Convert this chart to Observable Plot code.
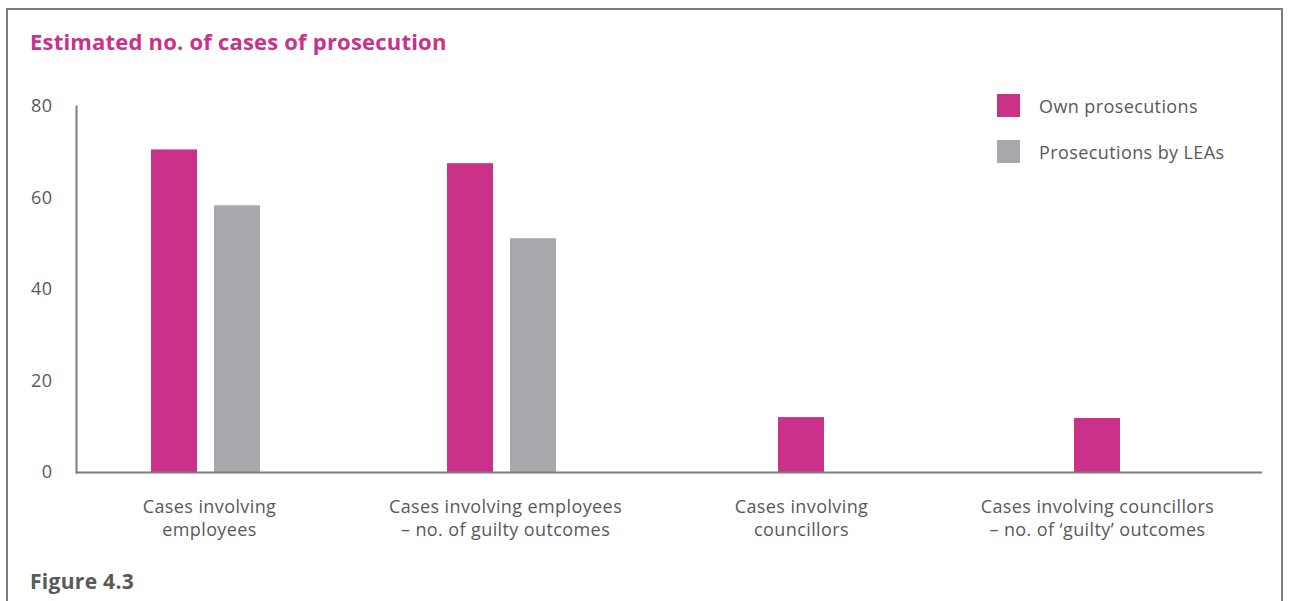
<!DOCTYPE html>
<html>
<head>
<meta charset="utf-8">
<script src="https://cdn.jsdelivr.net/npm/d3@7"></script>
<script src="https://cdn.jsdelivr.net/npm/@observablehq/plot@0.6"></script>
<style>
  html, body { margin: 0; padding: 0; background: #fff; }
  body { width: 1292px; height: 601px; overflow: hidden; font-family: "Open Sans", sans-serif; }
  #wrap { position: relative; width: 1292px; height: 601px; }
  #box { position: absolute; left: 6px; top: 8px; width: 1277px; height: 620px;
         border: 2px solid #7d7d7d; box-sizing: border-box; }
  #title { position: absolute; left: 30px; top: 26px; margin: 0; font-size: 22px; font-weight: 700;
           letter-spacing: 0.2px; color: #C9318B; line-height: 30px; }
  #fig { position: absolute; left: 30px; top: 567px; margin: 0; font-size: 21px; font-weight: 700;
         letter-spacing: 0.3px; color: #58595B; line-height: 28px; }
  #legend { position: absolute; left: 997px; top: 94px; font-size: 18px; letter-spacing: 0.4px; color: #58595B; }
  #legend .item { display: flex; align-items: center; height: 23px; margin-bottom: 23px; }
  #legend .sw { width: 23px; height: 23px; margin-right: 19px; }
  #chart { position: absolute; left: 0; top: 0; }
  #chart text { letter-spacing: 0.4px; }
</style>
</head>
<body>
<div id="wrap">
  <div id="box"></div>
  <h2 id="title">Estimated no. of cases of prosecution</h2>
  <div id="legend"></div>
  <div id="chart"></div>
  <div id="fig">Figure 4.3</div>
</div>
<script>
const categories = [
  "Cases involving\nemployees",
  "Cases involving employees\n– no. of guilty outcomes",
  "Cases involving\ncouncillors",
  "Cases involving councillors\n– no. of ‘guilty’ outcomes"
];
const ownProsecutions = [70.5, 67.5, 12, 11.8];
const leaProsecutions = [58.3, 51.1, null, null];
const seriesNames = ["Own prosecutions", "Prosecutions by LEAs"];
const seriesColors = ["#C9318B", "#A7A8AC"];
const yTicks = [0, 20, 40, 60, 80];

const rows = categories.map((c, i) => ({category: c, own: ownProsecutions[i], lea: leaProsecutions[i]}));
const pairedOwn = rows.filter(d => d.lea != null);
const singleOwn = rows.filter(d => d.lea == null);
const leaRows = rows.filter(d => d.lea != null);

const inset = 125;
const textColor = "#58595B";

const chart = Plot.plot({
  width: 1292,
  height: 601,
  marginLeft: 76,
  marginRight: 30,
  marginTop: 106,
  marginBottom: 129,
  style: {fontFamily: "Open Sans, sans-serif", fontSize: "18px", color: textColor, background: "transparent"},
  x: {domain: categories, range: [60, 1246], padding: 0, label: null},
  y: {domain: [0, 80], label: null},
  marks: [
    Plot.barY(pairedOwn, {x: "category", y: "own", fill: seriesColors[0], dx: -35, insetLeft: inset, insetRight: inset}),
    Plot.barY(singleOwn, {x: "category", y: "own", fill: seriesColors[0], insetLeft: inset, insetRight: inset}),
    Plot.barY(leaRows, {x: "category", y: "lea", fill: seriesColors[1], dx: 28, insetLeft: inset, insetRight: inset}),
    Plot.ruleY([0], {stroke: "#7d7d7d", strokeWidth: 2}),
    Plot.frame({anchor: "left", stroke: "#7d7d7d", strokeWidth: 2}),
    Plot.axisY({ticks: yTicks, tickSize: 0, tickPadding: 24, fontSize: 18, fill: textColor, label: null}),
    Plot.axisX({tickSize: 0, tickPadding: 24, fontSize: 18, lineHeight: 1.28, fill: textColor, label: null})
  ]
});
document.getElementById("chart").appendChild(chart);

const legend = document.getElementById("legend");
seriesNames.forEach((name, i) => {
  const item = document.createElement("div");
  item.className = "item";
  const sw = document.createElement("div");
  sw.className = "sw";
  sw.style.background = seriesColors[i];
  const label = document.createElement("span");
  label.textContent = name;
  item.appendChild(sw);
  item.appendChild(label);
  legend.appendChild(item);
});
</script>
</body>
</html>
